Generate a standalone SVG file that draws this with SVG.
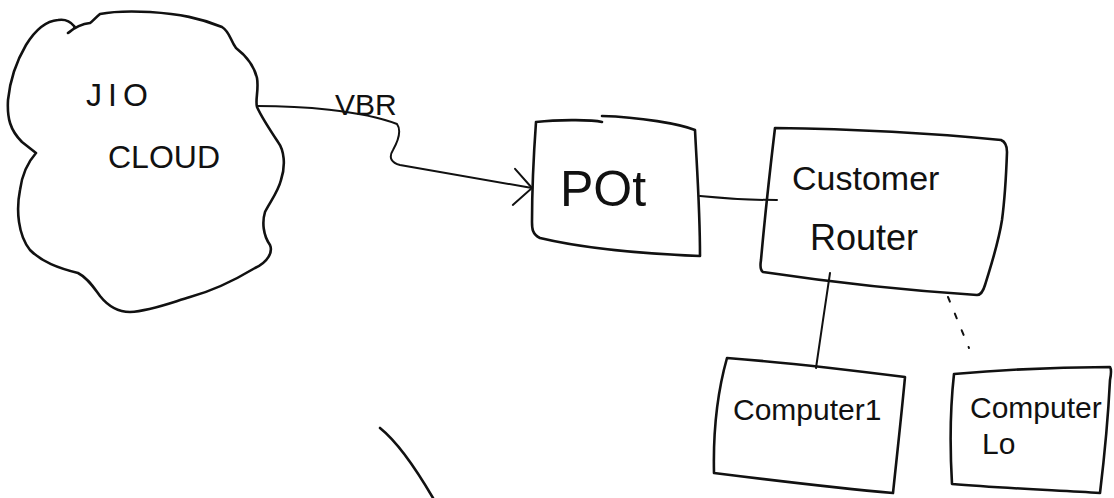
<svg xmlns="http://www.w3.org/2000/svg" width="1114" height="498" viewBox="0 0 1114 498">
<style>
.sk{fill:none;stroke:#111;stroke-width:2.6;stroke-linecap:round;stroke-linejoin:round}
.ln{fill:none;stroke:#111;stroke-width:2;stroke-linecap:round}
.t{font-family:"Liberation Sans","DejaVu Sans",sans-serif;fill:#111}
</style>
<defs>
<marker id="open" viewBox="0 0 24 40" refX="22" refY="18" markerWidth="24" markerHeight="40" markerUnits="userSpaceOnUse" orient="auto">
<path d="M2,2 L22,18 L6,38" fill="none" stroke="#111" stroke-width="2" stroke-linecap="round"/>
</marker>
</defs>
<rect width="1114" height="498" fill="#fff"/>
<g id="cloud">
<path class="sk" d="M68,33 C72,30 76,28 74,26 C70,21 64,19 58,20 C45,21 34,32 26,45 C16,62 10,80 8,100 C7,118 10,130 22,142 L36,153 C28,162 22,175 20,190 C16,210 18,235 30,250 C42,262 58,268 78,273 C88,278 94,288 100,296 C108,306 118,312 130,312 C150,311 170,303 190,297 C212,291 235,280 255,268 C268,262 273,252 270,245 C263,235 262,222 265,212 C270,202 278,192 281,180 C286,165 284,150 278,142 C270,130 262,118 257,107 C255,100 259,90 257,78 C254,65 245,55 236,48 C230,40 230,32 222,27 C200,18 180,14 150,12 C130,11 110,12 100,14 C95,18 92,22 90,23 C80,24 74,28 68,33 Z"/>
<text class="t" x="86" y="106" font-size="32" letter-spacing="6">JIO</text>
<text class="t" x="108" y="168" font-size="32">CLOUD</text>
</g>
<g id="pot">
<path class="sk" d="M536,122 C555,120 590,119 602,122 M602,116 C640,117 680,124 695,130 C697,170 700,210 700,256 C650,254 590,250 540,238 C532,234 532,228 532,222 C532,190 534,150 536,122"/>
<text class="t" x="560" y="206" font-size="50">POt</text>
</g>
<g id="router">
<path class="sk" d="M775,128 C850,129 930,133 1001,140 C1006,142 1007,148 1007,152 C1006,180 1004,205 1002,220 C998,245 992,262 985,285 C983,292 981,295 977,295 C900,290 830,282 763,272 C760,270 760,266 761,260 C765,215 770,170 775,128 Z"/>
<text class="t" x="792" y="190" font-size="34">Customer</text>
<text class="t" x="810" y="250" font-size="36">Router</text>
</g>
<g id="computer1">
<path class="sk" d="M727,358 C780,362 850,370 905,377 C902,410 897,455 893,493 C835,488 770,480 714,473 C713,430 718,390 727,358 Z"/>
<text class="t" x="733" y="420" font-size="30">Computer1</text>
</g>
<g id="computerlo">
<path class="sk" d="M954,374 C1000,370 1060,367 1110,367 C1112,370 1111,375 1110,380 C1108,420 1104,460 1100,493 C1050,490 1000,488 952,484 C950,450 950,410 954,374 Z"/>
<text class="t" x="970" y="418" font-size="30">Computer</text>
<text class="t" x="982" y="454" font-size="30">Lo</text>
</g>
<g id="connectors">
<path class="ln" d="M257,106 C300,106 360,110 397,124 C402,131 398,141 393,150 C388,158 392,163 400,165 L532,188" marker-end="url(#open)"/>
<text class="t" x="335" y="115" font-size="30">VBR</text>
<path class="ln" d="M700,196 C730,199 760,200 777,200"/>
<path class="ln" d="M830,273 C826,300 820,340 816,368"/>
<path class="ln" d="M948,297 L969,348" stroke-dasharray="5 13"/>
</g>
<path class="sk" d="M380,428 C395,440 412,462 433,498"/>
</svg>
